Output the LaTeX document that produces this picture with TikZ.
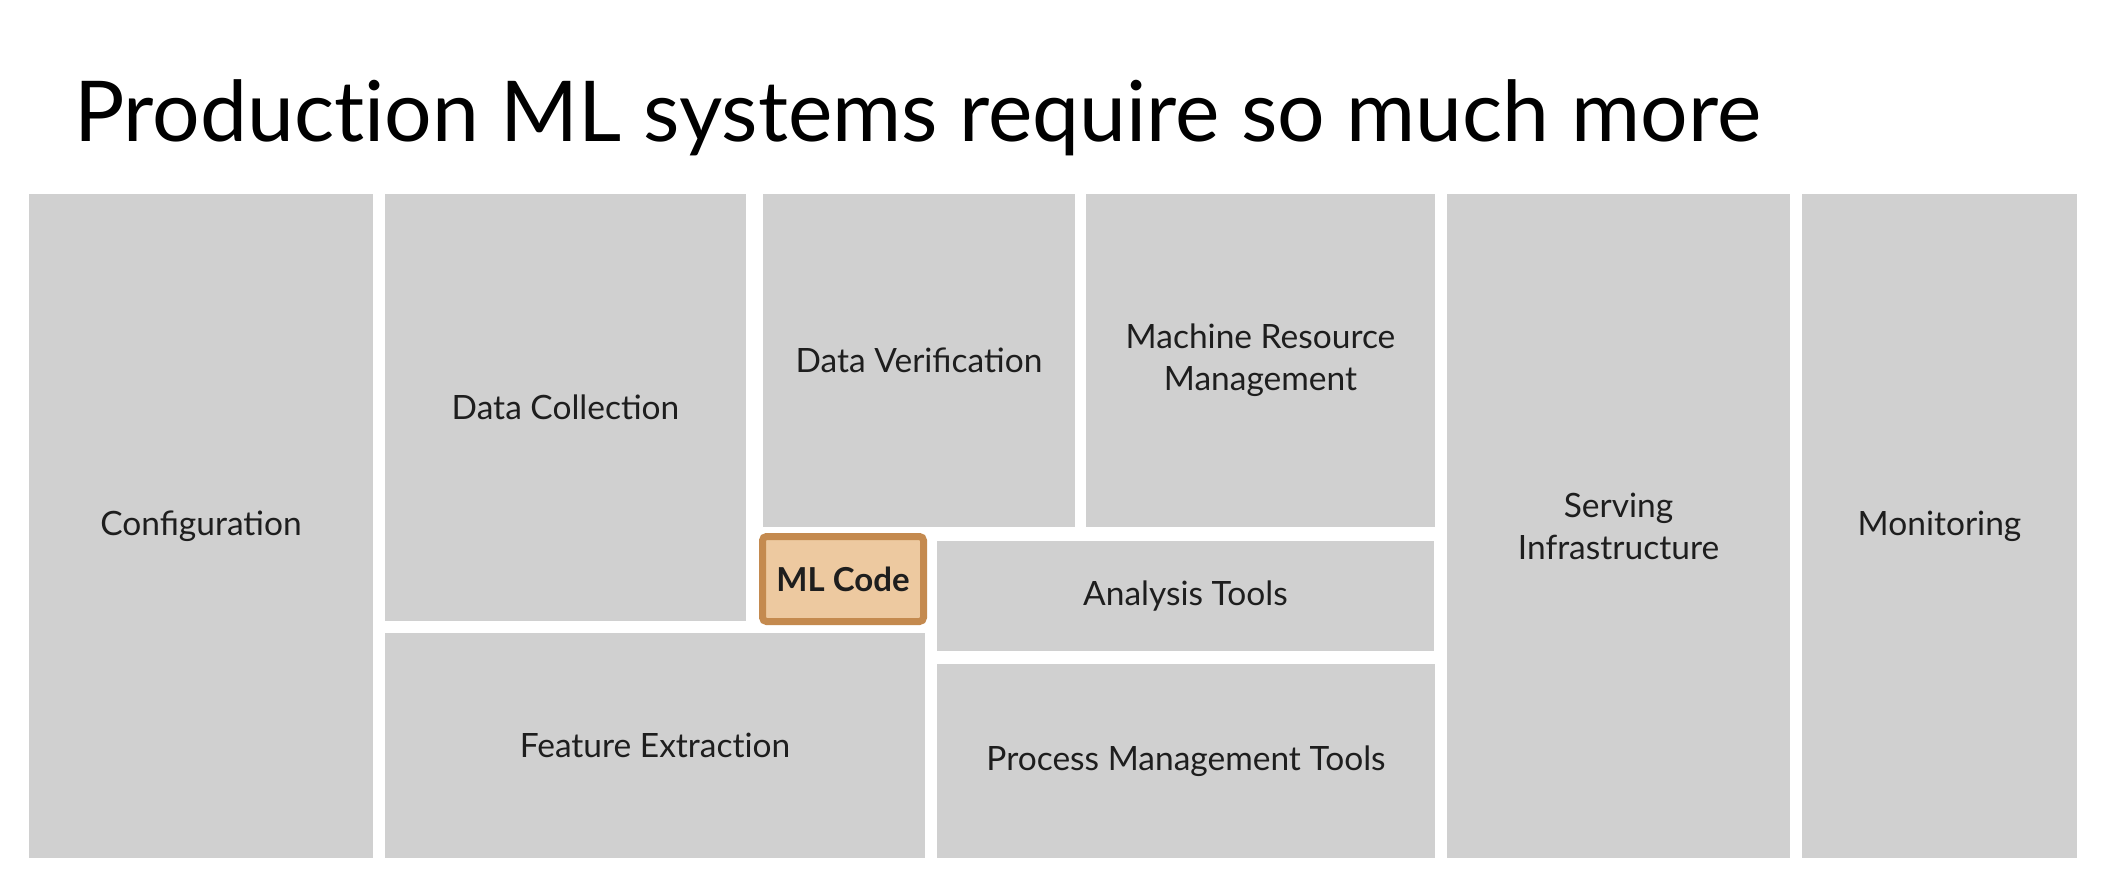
\documentclass[tikz,border=0pt]{standalone}
\usepackage{fontspec}
\setmainfont{Lato}
\begin{document}
\begin{tikzpicture}[x=1pt,y=-1pt,
  block/.style={fill=blockgray,draw=none,inner sep=0pt,align=center,
    font=\fontsize{33.5}{42}\selectfont,text=labeltext},
  label/.style={block,fill=none},
  mlcode/.style={fill=mlfill,draw=mlborder,line width=7pt,rounded corners=4pt}]
\definecolor{blockgray}{HTML}{D0D0D0}
\definecolor{labeltext}{HTML}{1E1E1E}
\definecolor{mlfill}{HTML}{EDC9A0}
\definecolor{mlborder}{HTML}{C48A4F}
\useasboundingbox[fill=white] (0,0) rectangle (2116,886);

% title (t\kern0pt i keeps the t and i apart)
\node[anchor=base west,inner sep=0pt,font=\fontsize{84}{100}\selectfont,text=black]
  (title) at (74,141) {Product\kern0pt ion ML systems require so much more};

\path[block] (29,194) rectangle (373,858);
\node[label] (config) at (201,526) {Configuration};

\path[block] (385,194) rectangle (746,621);
\node[label] (collect) at (565.5,407.5) {Data Collection};

\path[block] (763,194) rectangle (1075,527);
\node[label] (verify) at (919,360.5) {Data Verification};

\path[block] (1086,194) rectangle (1435,527);
\node[label] (machine) at (1260.5,360.5) {Machine Resource\\Management};

\path[block] (1447,194) rectangle (1790,858);
\node[label] (serving) at (1618.5,526) {Serving\\Infrastructure};

\path[block] (1802,194) rectangle (2077,858);
\node[label] (monitor) at (1939.5,526) {Monitoring};

\path[block] (937,541) rectangle (1434,651);
\node[label] (analysis) at (1185.5,596) {Analysis Tools};

\path[block] (385,633) rectangle (925,858);
\node[label] (feature) at (655,745.5) {Feature Extract\kern0pt ion};

\path[block] (937,664) rectangle (1435,858);
\node[label] (process) at (1186,761) {Process Management Tools};

% the small highlighted box in the middle
\draw[mlcode] (762.5,536.5) rectangle (923.5,621.5);
\node[label,font=\fontsize{33}{40}\selectfont\bfseries] (ml) at (843,579) {ML Code};
\end{tikzpicture}
\end{document}
